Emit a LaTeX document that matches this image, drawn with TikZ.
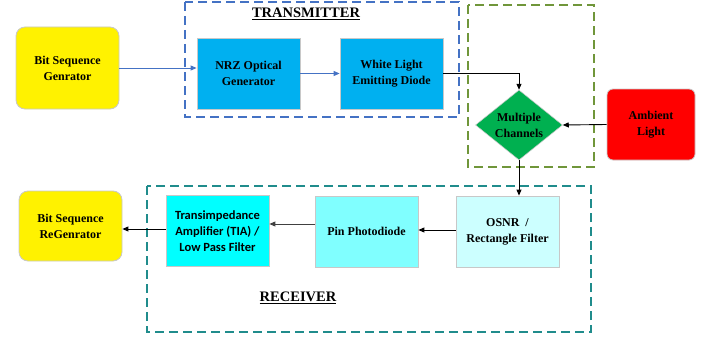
\documentclass[tikz,border=0pt]{standalone}
\usepackage{fontspec}
\setmainfont{Liberation Serif}
\newfontfamily\carl{Carlito}
\usetikzlibrary{shapes.geometric,arrows.meta}
\definecolor{txblue}{HTML}{4472C4}
\definecolor{rxteal}{HTML}{208C8C}
\definecolor{chgreen}{HTML}{70963A}
\definecolor{skyblue}{HTML}{00B0F0}
\definecolor{chfill}{HTML}{00B050}
\definecolor{tiafill}{HTML}{00FFFF}
\definecolor{pinfill}{HTML}{80FFFF}
\definecolor{osnrfill}{HTML}{CCFFFF}
\definecolor{lgray}{HTML}{C8C8C8}
\tikzset{
  blk/.style={draw=lgray, line width=0.8pt, minimum width=103pt, minimum height=71pt,
    align=center, font=\fontsize{12}{16}\selectfont\bfseries, inner sep=1pt},
  term/.style={blk, rounded corners=9pt, fill=yellow},
  grp/.style={dash pattern=on 9pt off 5pt, line width=1.2pt},
  lbl/.style={font=\fontsize{14.5}{16}\selectfont\bfseries},
  blarrow/.style={-{Triangle[length=6pt,width=5pt]}, draw=txblue, line width=0.9pt},
  bkarrow/.style={-{Triangle[length=6pt,width=5pt]}, line width=0.9pt}
}
\begin{document}
\begin{tikzpicture}[x=1pt,y=-1pt]
\useasboundingbox (0,0) rectangle (709,337);
% group frames
\draw[grp, draw=txblue] (185,2) rectangle (459,117);
\draw[grp, draw=chgreen] (468,5) rectangle (594,167);
\draw[grp, draw=rxteal] (147,186) rectangle (591,332);
\node[lbl] (txl) at (306,14) {\underline{TRANSMITTER}};
\node[lbl] (rxl) at (298,298) {\underline{RECEIVER}};
% transmitter side
\node[term, minimum height=82pt] (src) at (67.5,68) {Bit Sequence\\Genrator};
\node[blk, fill=skyblue] (nrz) at (248.5,73.5) {NRZ Optical\\Generator};
\node[blk, fill=skyblue] (led) at (391.5,73.5) {White Light\\Emitting Diode};
% channel
\node[diamond, fill=chfill, draw=lgray, line width=0.5pt,
  minimum width=87pt, minimum height=70pt, inner sep=0pt] (ch) at (519,125) {};
\node[font=\fontsize{12}{16}\selectfont\bfseries, align=center] (chl) at (ch.center) {Multiple\\Channels};
\node[blk, fill=red, minimum width=88pt, rounded corners=6pt] (amb) at (651,124.5) {Ambient\\Light};
% receiver side
\node[blk, fill=osnrfill] (osnr) at (507.5,231.5) {OSNR~~/\\Rectangle Filter};
\node[blk, fill=pinfill] (pin) at (366.5,231.5) {Pin Photodiode};
\node[blk, fill=tiafill, font=\carl\fontsize{12.5}{16}\selectfont\bfseries] (tia) at (217.5,231) {Transimpedance\\Amplifier (TIA) /\\Low Pass Filter};
\node[term, minimum height=70pt] (dst) at (70.5,226) {Bit Sequence\\ReGenrator};
% connectors
\draw[blarrow] (src.east) -- (nrz.west |- src.east);
\draw[blarrow] (nrz.east) -- (led.west);
\draw[bkarrow] (led.east) -| (ch.north);
\draw[bkarrow] (amb.west) -- (ch.east);
\draw[bkarrow] (ch.south) -- (ch.south |- osnr.north);
\draw[bkarrow] (osnr.west |- 0,230) -- (pin.east |- 0,230);
\draw[bkarrow, draw=black!75] (pin.west |- 0,224) -- (tia.east |- 0,224);
\draw[bkarrow] (tia.west |- 0,229) -- (dst.east |- 0,229);
\end{tikzpicture}
\end{document}
